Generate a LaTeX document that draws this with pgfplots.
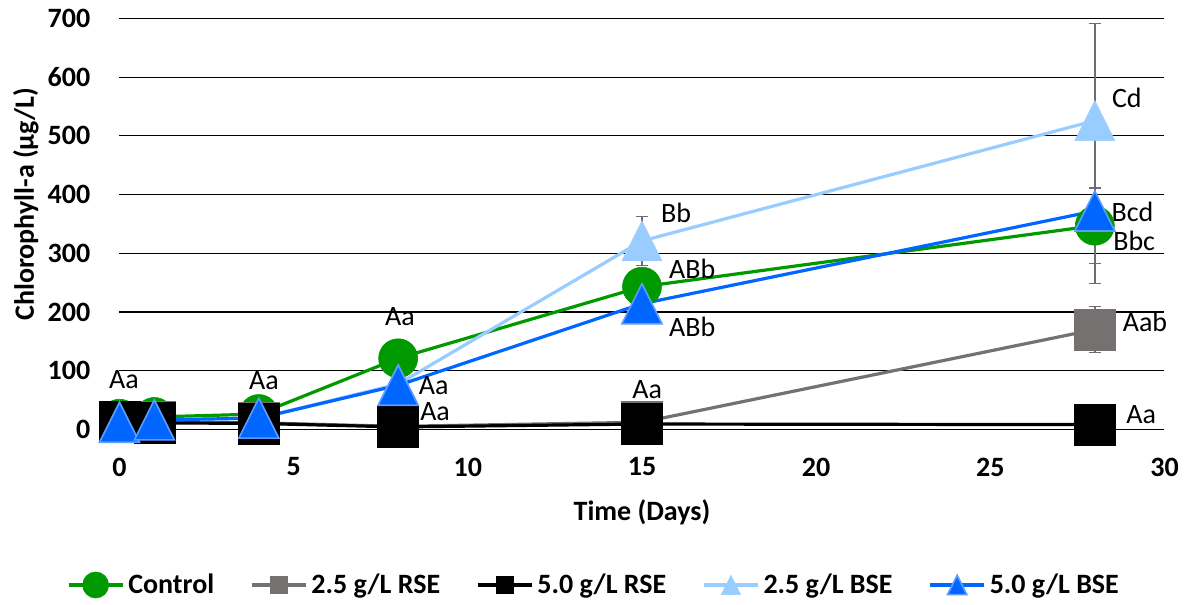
\documentclass[border=0pt]{standalone}
\usepackage{pgfplots}
\pgfplotsset{compat=1.18}
\usepackage{fontspec}
\setmainfont{Carlito}
\definecolor{cgreen}{HTML}{009900}
\definecolor{cgray}{HTML}{767171}
\definecolor{clblue}{HTML}{99CCFF}
\definecolor{cdblue}{HTML}{0066FF}
\definecolor{cedge}{HTML}{5C9BFF}
\definecolor{errgray}{HTML}{6E6E6E}
\pgfdeclareplotmark{xltri}{%
  \pgfpathmoveto{\pgfqpoint{0pt}{\pgfplotmarksize}}%
  \pgfpathlineto{\pgfqpoint{\pgfplotmarksize}{-\pgfplotmarksize}}%
  \pgfpathlineto{\pgfqpoint{-\pgfplotmarksize}{-\pgfplotmarksize}}%
  \pgfpathclose
  \pgfusepathqfillstroke}
\pgfplotstableread{
x y
0 18
1 21
4 26
8 121
15 243
28 347
}\control
\pgfplotstableread{
x y
0 13
1 12
4 11
8 5
15 12
28 170
}\rsea
\pgfplotstableread{
x y
0 12
1 11
4 10
8 4
15 9
28 8
}\rseb
\pgfplotstableread{
x y
0 12
1 16
4 19
8 77
15 321
28 526
}\bsea
\pgfplotstableread{
x y
0 12
1 16
4 19
8 75
15 214
28 372
}\bseb
\pgfplotstableread{
x y e
28 347 64
28 170 39
15 321 42
28 526 165
28 372 124
}\errs
\begin{document}
\begin{tikzpicture}
\path[use as bounding box] (-59.75pt,-87.85pt) rectangle (535.25pt,214.65pt);
\begin{axis}[
  at={(0pt,0pt)}, anchor=south west,
  scale only axis, width=522.5pt, height=205.4pt,
  xmin=0, xmax=30, ymin=0, ymax=700,
  xtick={0,5,...,30}, ytick={0,100,...,700},
  axis line style={draw=none}, tick style={draw=none},
  ymajorgrids, grid style={black, line width=0.6pt},
  clip=false,
  font=\fontsize{14}{17}\selectfont,
  ticklabel style={font=\bfseries\fontsize{14}{17}\selectfont},
  /pgf/number format/assume math mode=true,
  xticklabel style={anchor=center, inner sep=0pt, yshift=-18.85pt},
  yticklabel style={anchor=east, inner sep=0pt, xshift=-14.4pt},
  xlabel={\bfseries Time (Days)},
  xlabel style={at={(axis description cs:0.5,-0.2013)}, anchor=center, inner sep=0pt},
  ylabel={\bfseries Chlorophyll-a (µg/L)},
  ylabel style={at={(axis description cs:-0.0895,0.548)}, anchor=center, inner sep=0pt},
  legend columns=5,
  legend style={at={(axis description cs:0.455,-0.379)}, anchor=center, draw=none, fill=none,
    font=\bfseries\fontsize{14}{17}\selectfont,
    /tikz/every even column/.append style={column sep=16pt}},
  legend cell align=left,
  legend image code/.code={\draw[mark repeat=2,mark phase=2,#1] plot coordinates {(0pt,0pt) (13.5pt,0pt) (27pt,0pt)};},
]
\addplot[forget plot, only marks, mark=*, mark size=0.05pt, color=errgray,
  error bars/.cd, y dir=both, y explicit, error mark=|,
  error bar style={draw=errgray, line width=0.7pt},
  error mark options={draw=errgray, mark size=3pt, line width=0.7pt}]
  table[x=x, y=y, y error=e] {\errs};
\addplot[color=cgreen, line width=1.6pt, mark=*, mark size=9.75pt,
  mark options={solid, fill=cgreen, draw=cgreen, line width=0.3pt},
  legend image post style={mark size=6.5pt}] table[x=x,y=y] {\control};
\addlegendentry{Control}
\addplot[color=cgray, line width=1.6pt, mark=square*, mark size=10.25pt,
  mark options={solid, fill=cgray, draw=cgray, line width=0.3pt},
  legend image post style={mark size=4.4pt}] table[x=x,y=y] {\rsea};
\addlegendentry{2.5 g/L RSE}
\addplot[color=black, line width=1.6pt, mark=square*, mark size=10.25pt,
  mark options={solid, fill=black, draw=black, line width=0.3pt},
  legend image post style={mark size=4.4pt}] table[x=x,y=y] {\rseb};
\addlegendentry{5.0 g/L RSE}
\addplot[color=clblue, line width=1.6pt, mark=xltri, mark size=10pt,
  mark options={solid, fill=clblue, draw=clblue, line width=0.3pt},
  legend image post style={mark size=4.8pt}] table[x=x,y=y] {\bsea};
\addlegendentry{2.5 g/L BSE}
\addplot[color=cdblue, line width=1.6pt, mark=xltri, mark size=10pt,
  mark options={solid, fill=cdblue, draw=cedge, line width=0.8pt},
  legend image post style={mark size=4.8pt}] table[x=x,y=y] {\bseb};
\addlegendentry{5.0 g/L BSE}
\begin{scope}[every node/.style={inner sep=0pt, anchor=center, font=\fontsize{14}{17}\selectfont}]
\node at (axis cs:0.13,84.9) {Aa};
\node at (axis cs:4.15,83.1) {Aa};
\node at (axis cs:8.05,191.3) {Aa};
\node at (axis cs:9.02,73.8) {Aa};
\node at (axis cs:9.06,29.5) {Aa};
\node at (axis cs:15.15,67.0) {Aa};
\node at (axis cs:15.98,368.5) {Bb};
\node at (axis cs:16.44,274.0) {ABb};
\node at (axis cs:16.44,174.3) {ABb};
\node at (axis cs:28.92,564.5) {Cd};
\node at (axis cs:29.08,370.8) {Bcd};
\node at (axis cs:29.13,320.8) {Bbc};
\node at (axis cs:29.44,182.8) {Aab};
\node at (axis cs:29.33,24.4) {Aa};
\end{scope}
\end{axis}
\end{tikzpicture}
\end{document}
